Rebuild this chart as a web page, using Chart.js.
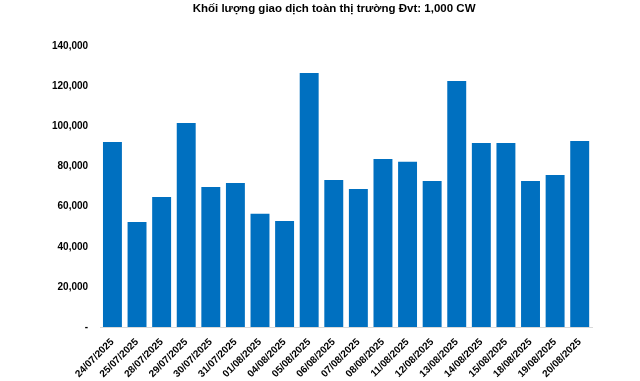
<!DOCTYPE html>
<html>
<head>
<meta charset="utf-8">
<script src="https://cdn.jsdelivr.net/npm/chart.js"></script>
<style>
  html, body { margin: 0; padding: 0; background: #fff; }
  #wrap { width: 640px; height: 381px; }
</style>
</head>
<body>
<div id="wrap"><canvas id="chart"></canvas></div>
<script>
const chartTitle = 'Khối lượng giao dịch toàn thị trường Đvt: 1,000 CW';
const dates = ['24/07/2025', '25/07/2025', '28/07/2025', '29/07/2025', '30/07/2025', '31/07/2025',
  '01/08/2025', '04/08/2025', '05/08/2025', '06/08/2025', '07/08/2025', '08/08/2025', '11/08/2025',
  '12/08/2025', '13/08/2025', '14/08/2025', '15/08/2025', '18/08/2025', '19/08/2025', '20/08/2025'];
const volumes = [92200, 52300, 64800, 101700, 69800, 71800, 56400, 52900, 126600, 73300,
  68800, 83700, 82300, 72800, 122600, 91700, 91700, 72800, 75800, 92700];
const yTicks = [0, 20000, 40000, 60000, 80000, 100000, 120000, 140000];

const fontFamily = 'Arial, "Liberation Sans", sans-serif';

// title drawn by hand: in the original it sits a bit left of the plot centre
const titlePlugin = {
  id: 'topTitle',
  afterDraw(chart) {
    const { ctx, chartArea } = chart;
    ctx.save();
    ctx.font = 'bold 11.5px ' + fontFamily;
    ctx.fillStyle = '#000';
    ctx.textAlign = 'center';
    ctx.textBaseline = 'middle';
    ctx.fillText(chartTitle, (chartArea.left + chartArea.right) / 2 - 12, 9);
    ctx.restore();
  }
};

new Chart(document.getElementById('chart').getContext('2d'), {
  type: 'bar',
  data: {
    labels: dates,
    datasets: [{
      data: volumes,
      backgroundColor: '#0070C0',
      borderWidth: 0,
      barPercentage: 0.77,
      categoryPercentage: 1
    }]
  },
  options: {
    responsive: true,
    maintainAspectRatio: false,
    animation: false,
    layout: { padding: { left: 48, right: 48, top: 46, bottom: 0 } },
    plugins: {
      legend: { display: false },
      tooltip: { enabled: false },
      title: { display: false }
    },
    scales: {
      x: {
        grid: { display: false },
        border: { display: true, color: '#d9d9d9', width: 1 },
        ticks: {
          color: '#000',
          font: { family: fontFamily, size: 10, weight: 'bold' },
          maxRotation: 45,
          minRotation: 45,
          autoSkip: false,
          padding: 1
        }
      },
      y: {
        min: 0,
        max: 140000,
        afterBuildTicks: (axis) => { axis.ticks = yTicks.map(v => ({ value: v })); },
        grid: { display: false },
        border: { display: false },
        ticks: {
          color: '#000',
          padding: 4,
          font: { family: fontFamily, size: 10, weight: 'bold' },
          callback: (v) => v === 0 ? '-' : Number(v).toLocaleString('en-US')
        }
      }
    }
  },
  plugins: [titlePlugin]
});
</script>
</body>
</html>
